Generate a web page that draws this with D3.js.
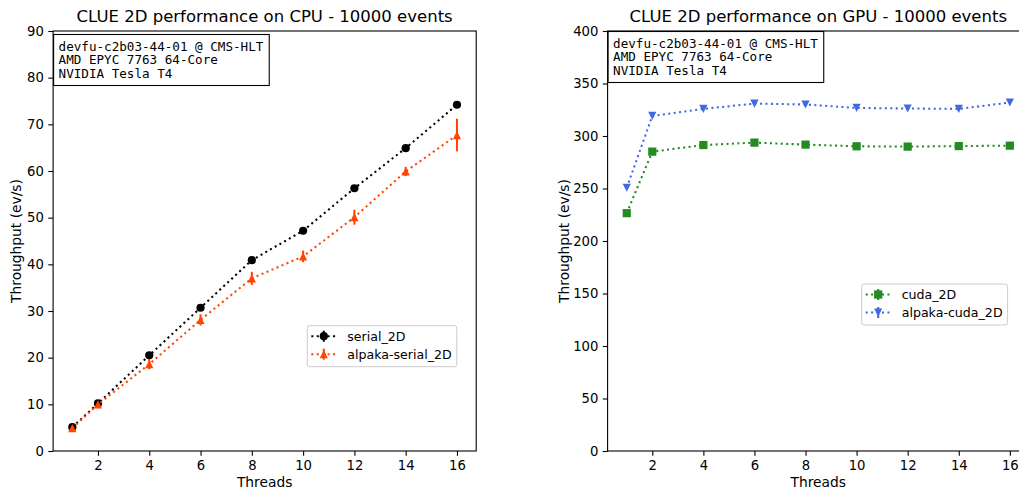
<!DOCTYPE html>
<html lang="en">
<head>
<meta charset="UTF-8">
<title>CLUE 2D performance</title>
<style>
  body { margin: 0; background: #fff; }
  svg { display: block; font-family: "DejaVu Sans", sans-serif; }
  .mono { font-family: "DejaVu Sans Mono", monospace; }
</style>
</head>
<body>
<div id="chart"></div>
<script src="https://d3js.org/d3.v7.min.js"></script>
<script>
// data
const threads = [1, 2, 4, 6, 8, 10, 12, 14, 16];

const serial2D = [5.1, 10.2, 20.5, 30.7, 40.9, 47.2, 56.3, 64.9, 74.2];
const serial2DErr = [0.2, 0.2, 0.3, 0.3, 0.3, 0.3, 0.3, 0.3, 0.3];
const alpakaSerial2D = [4.9, 10.0, 18.6, 28.1, 37.0, 41.7, 50.1, 59.9, 67.7];
const alpakaSerial2DErr = [0.4, 0.5, 1.1, 1.2, 1.4, 1.25, 1.6, 1.0, 3.5];

const cuda2D = [226.5, 285.1, 291.4, 293.7, 291.8, 290.2, 289.9, 290.4, 290.8];
const cuda2DErr = [1, 1, 1, 1, 1, 1, 1, 1, 1];
const alpakaCuda2D = [250.7, 319.1, 325.8, 330.9, 330.0, 326.7, 326.2, 325.8, 331.9];
const alpakaCuda2DErr = [1, 1, 1, 1, 1, 1, 1, 1, 1];

const xTicks = [2, 4, 6, 8, 10, 12, 14, 16];
const cpuYTicks = [0, 10, 20, 30, 40, 50, 60, 70, 80, 90];
const gpuYTicks = [0, 50, 100, 150, 200, 250, 300, 350, 400];

const infoLines = ["devfu-c2b03-44-01 @ CMS-HLT", "AMD EPYC 7763 64-Core", "NVIDIA Tesla T4"];

const W = 1019, H = 489;
const tickFs = 13.2;
const labelFs = 13.8;
const legendFs = 12.6;
const lw = 2.05;      // line width
const ms = 8.2;       // marker size
const dots = `${lw},${lw * 1.65}`;

const svg = d3.select("#chart").append("svg")
  .attr("width", W).attr("height", H);

function marker(g, type, color, x, y) {
  const s = ms / 2;
  if (type === "circle") {
    g.append("circle").attr("cx", x).attr("cy", y).attr("r", s).attr("fill", color);
  } else if (type === "square") {
    g.append("rect").attr("x", x - s).attr("y", y - s).attr("width", ms).attr("height", ms).attr("fill", color);
  } else if (type === "up") {
    g.append("path").attr("d", `M${x},${y - s}L${x - s},${y + s}L${x + s},${y + s}Z`).attr("fill", color);
  } else {
    g.append("path").attr("d", `M${x},${y + s}L${x - s},${y - s}L${x + s},${y - s}Z`).attr("fill", color);
  }
}

function panel(cfg) {
  const x = d3.scaleLinear().domain([0.25, 16.75]).range([cfg.left, cfg.right]);
  const y = d3.scaleLinear().domain([0, cfg.ymax]).range([451, 31]);
  const g = svg.append("g");

  // series
  cfg.series.forEach(s => {
    const pts = threads.map((t, i) => ({ t, v: s.values[i], e: s.err[i] }));
    g.append("path").datum(pts)
      .attr("fill", "none").attr("stroke", s.color).attr("stroke-width", lw)
      .attr("stroke-dasharray", dots)
      .attr("d", d3.line().x(d => x(d.t)).y(d => y(d.v)));
    g.selectAll(null).data(pts).join("line")
      .attr("x1", d => x(d.t)).attr("x2", d => x(d.t))
      .attr("y1", d => y(d.v - d.e)).attr("y2", d => y(d.v + d.e))
      .attr("stroke", s.color).attr("stroke-width", lw);
    pts.forEach(d => marker(g, s.marker, s.color, x(d.t), y(d.v)));
  });

  // frame
  g.append("rect")
    .attr("x", cfg.left).attr("y", 31)
    .attr("width", cfg.right - cfg.left).attr("height", 420)
    .attr("fill", "none").attr("stroke", "#000").attr("stroke-width", 1.1);

  // axes
  const xa = g.append("g").attr("transform", "translate(0,451)")
    .call(d3.axisBottom(x).tickValues(xTicks).tickSize(4.8).tickPadding(4.5));
  const ya = g.append("g").attr("transform", `translate(${cfg.left},0)`)
    .call(d3.axisLeft(y).tickValues(cfg.yTicks).tickSize(4.8).tickPadding(4.5));
  [xa, ya].forEach(a => {
    a.select(".domain").remove();
    a.selectAll("text").style("font-size", tickFs + "px").attr("fill", "#000")
      .style("font-family", "DejaVu Sans");
    a.selectAll("line").attr("stroke", "#000").attr("stroke-width", 1.1);
  });

  const cx = (cfg.left + cfg.right) / 2;
  g.append("text").attr("x", cx).attr("y", 22).attr("text-anchor", "middle")
    .style("font-size", "16.5px").text(cfg.title);
  g.append("text").attr("x", cx).attr("y", 487).attr("text-anchor", "middle")
    .style("font-size", labelFs + "px").text("Threads");
  g.append("text")
    .attr("transform", `translate(${cfg.left - cfg.ylabelOff},241) rotate(-90)`)
    .attr("text-anchor", "middle").attr("dy", "0.35em")
    .style("font-size", labelFs + "px")
    .text("Throughput (ev/s)");

  // info box
  const ib = g.append("g");
  const ibRect = ib.append("rect").attr("fill", "#fff").attr("stroke", "#000").attr("stroke-width", 1.1);
  const txt = ib.append("text").attr("class", "mono").style("font-size", "12.6px");
  infoLines.forEach((l, i) => {
    txt.append("tspan").attr("x", cfg.left + 5.5).attr("y", cfg.infoTop + 16 + i * 13.6).text(l);
  });
  const bb = txt.node().getBBox();
  ibRect.attr("x", cfg.left + 0.5).attr("y", cfg.infoTop)
    .attr("width", bb.x + bb.width + 5 - cfg.left).attr("height", 51);

  // legend
  const lg = g.append("g");
  const lgRect = lg.append("rect").attr("fill", "#fff").attr("fill-opacity", 0.8)
    .attr("stroke", "#ccc").attr("stroke-width", 1).attr("rx", 2.5);
  let maxW = 0;
  cfg.series.forEach((s, i) => {
    const ry = cfg.legTop + 10.5 + i * 18;
    const hx = cfg.legLeft + 4;
    lg.append("line").attr("x1", hx).attr("x2", hx + 25).attr("y1", ry).attr("y2", ry)
      .attr("stroke", s.color).attr("stroke-width", lw).attr("stroke-dasharray", dots);
    lg.append("line").attr("x1", hx + 12.5).attr("x2", hx + 12.5).attr("y1", ry - 5.5).attr("y2", ry + 5.5)
      .attr("stroke", s.color).attr("stroke-width", lw);
    marker(lg, s.marker, s.color, hx + 12.5, ry);
    const t = lg.append("text").attr("x", hx + 36).attr("y", ry + 4.6)
      .style("font-size", legendFs + "px").text(s.name);
    maxW = Math.max(maxW, t.node().getComputedTextLength());
  });
  lgRect.attr("x", cfg.legLeft).attr("y", cfg.legTop)
    .attr("width", 40 + maxW + 5).attr("height", 41);
}

panel({
  left: 53.1, right: 476.2, ymax: 90, yTicks: cpuYTicks, ylabelOff: 36.5,
  title: "CLUE 2D performance on CPU - 10000 events",
  infoTop: 34.5, legLeft: 307.3, legTop: 325.7,
  series: [
    { name: "serial_2D", values: serial2D, err: serial2DErr, color: "#000000", marker: "circle" },
    { name: "alpaka-serial_2D", values: alpakaSerial2D, err: alpakaSerial2DErr, color: "#ff4500", marker: "up" }
  ]
});

panel({
  left: 607.6, right: 1029, ymax: 400, yTicks: gpuYTicks, ylabelOff: 43.5,
  title: "CLUE 2D performance on GPU - 10000 events",
  infoTop: 31.5, legLeft: 861.7, legTop: 284,
  series: [
    { name: "cuda_2D", values: cuda2D, err: cuda2DErr, color: "#228b22", marker: "square" },
    { name: "alpaka-cuda_2D", values: alpakaCuda2D, err: alpakaCuda2DErr, color: "#4169e1", marker: "down" }
  ]
});
</script>
</body>
</html>
